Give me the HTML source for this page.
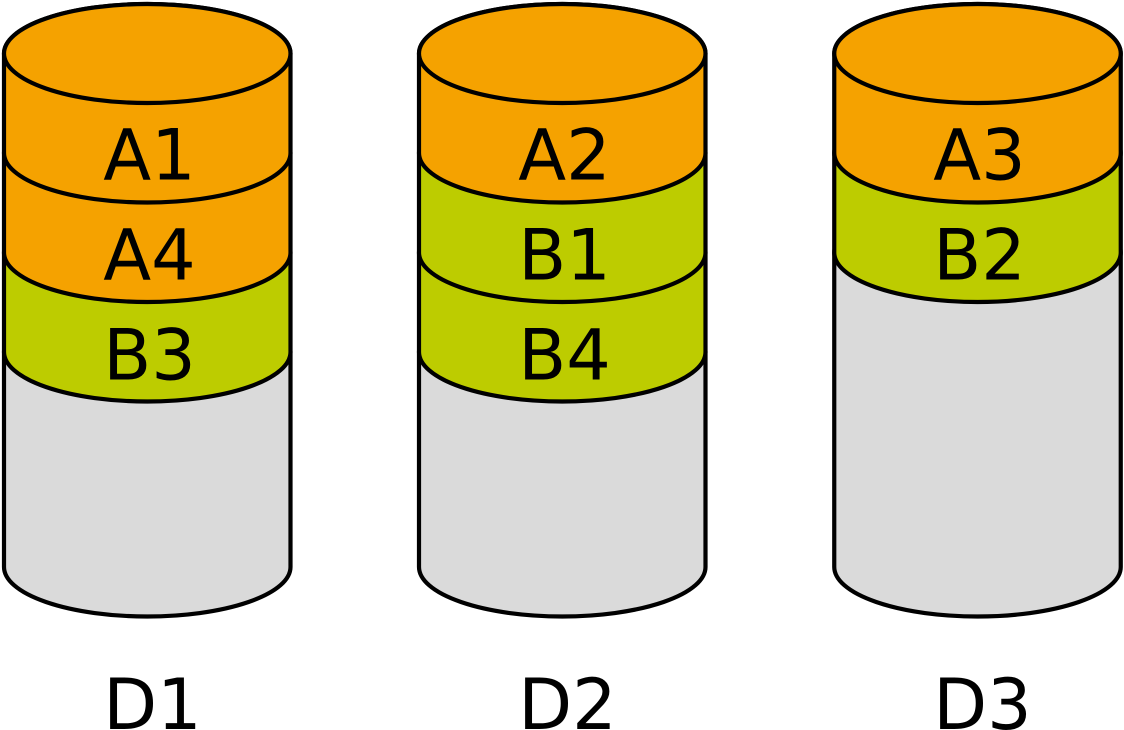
<!DOCTYPE html>
<html>
<head>
<meta charset="utf-8">
<style>
html,body{margin:0;padding:0;background:#ffffff;}
svg{display:block;}
text{font-family:"DejaVu Sans","Liberation Sans",sans-serif;font-size:70px;fill:#000;text-anchor:middle;}
</style>
</head>
<body>
<svg width="1124" height="730" viewBox="0 0 1124 730" xmlns="http://www.w3.org/2000/svg">
<g stroke="#000" stroke-width="4.2" stroke-linejoin="round">
<!-- Cylinder 1 -->
<path d="M4,352 L4,567 A143.25,49.5 0 0 0 290.5,567 L290.5,352 A143.25,49.5 0 0 0 4,352 Z" fill="#dadada"/>
<path d="M4,252.5 L4,352 A143.25,49.5 0 0 0 290.5,352 L290.5,252.5 A143.25,49.5 0 0 0 4,252.5 Z" fill="#bdcc00"/>
<path d="M4,153 L4,252.5 A143.25,49.5 0 0 0 290.5,252.5 L290.5,153 A143.25,49.5 0 0 0 4,153 Z" fill="#f5a200"/>
<path d="M4,53.5 L4,153 A143.25,49.5 0 0 0 290.5,153 L290.5,53.5 A143.25,49.5 0 0 0 4,53.5 Z" fill="#f5a200"/>
<ellipse cx="147.25" cy="53.5" rx="143.25" ry="49.5" fill="#f5a200"/>

<!-- Cylinder 2 -->
<path d="M419,352 L419,567 A143.25,49.5 0 0 0 705.5,567 L705.5,352 A143.25,49.5 0 0 0 419,352 Z" fill="#dadada"/>
<path d="M419,252.5 L419,352 A143.25,49.5 0 0 0 705.5,352 L705.5,252.5 A143.25,49.5 0 0 0 419,252.5 Z" fill="#bdcc00"/>
<path d="M419,153 L419,252.5 A143.25,49.5 0 0 0 705.5,252.5 L705.5,153 A143.25,49.5 0 0 0 419,153 Z" fill="#bdcc00"/>
<path d="M419,53.5 L419,153 A143.25,49.5 0 0 0 705.5,153 L705.5,53.5 A143.25,49.5 0 0 0 419,53.5 Z" fill="#f5a200"/>
<ellipse cx="562.25" cy="53.5" rx="143.25" ry="49.5" fill="#f5a200"/>

<!-- Cylinder 3 -->
<path d="M834.25,252.5 L834.25,567 A143.25,49.5 0 0 0 1120.75,567 L1120.75,252.5 A143.25,49.5 0 0 0 834.25,252.5 Z" fill="#dadada"/>
<path d="M834.25,153 L834.25,252.5 A143.25,49.5 0 0 0 1120.75,252.5 L1120.75,153 A143.25,49.5 0 0 0 834.25,153 Z" fill="#bdcc00"/>
<path d="M834.25,53.5 L834.25,153 A143.25,49.5 0 0 0 1120.75,153 L1120.75,53.5 A143.25,49.5 0 0 0 834.25,53.5 Z" fill="#f5a200"/>
<ellipse cx="977.5" cy="53.5" rx="143.25" ry="49.5" fill="#f5a200"/>
</g>

<text x="149.5" y="179.5">A1</text>
<text x="149.5" y="279.5">A4</text>
<text x="149.5" y="379.5">B3</text>
<text x="152.5" y="729">D1</text>

<text x="564.5" y="179.5">A2</text>
<text x="564.5" y="279.5">B1</text>
<text x="564.5" y="379.5">B4</text>
<text x="567.5" y="729">D2</text>

<text x="979.5" y="179.5">A3</text>
<text x="979.5" y="279.5">B2</text>
<text x="982.5" y="729">D3</text>
</svg>
</body>
</html>
